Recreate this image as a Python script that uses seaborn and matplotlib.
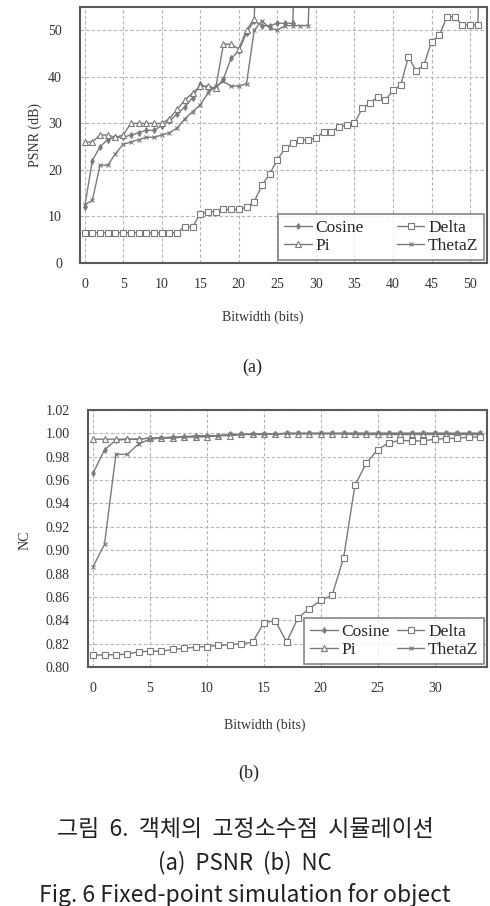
import matplotlib
matplotlib.use('Agg')
import matplotlib.pyplot as plt
import numpy as np
import seaborn as sns
import pandas as pd

# PSNR (dB) vs bitwidth; 100 marks a lossless (infinite) PSNR that runs off the top of the axes
psnr_bits_cos = list(range(0, 29))
psnr_cos = [12, 22, 25, 26.5, 27, 27, 27.5, 28, 28.5, 28.5, 29.5, 30.5, 32, 33.5, 35.5,
            38.5, 37.5, 37.5, 39.5, 44, 45.5, 49.5, 52, 51, 51, 51.5, 51.5, 51.5, 100]
psnr_bits_pi = list(range(0, 24))
psnr_pi = [26, 26, 27.5, 27.5, 27, 27.5, 30, 30, 30, 30, 30, 31, 33, 35, 36.5,
           38, 38, 37.5, 47, 47, 46, 50, 52.5, 100]
psnr_bits_theta = list(range(0, 31))
psnr_theta = [12.5, 13.5, 21, 21, 23.5, 25.5, 26, 26.5, 27, 27, 27.5, 28, 29, 31, 32.5,
              34, 36.5, 38, 39, 38, 38, 38.5, 50, 52, 50.5, 50, 51, 51, 51, 51, 100]
psnr_bits_delta = list(range(0, 53))
psnr_delta = [6.5, 6.5, 6.5, 6.5, 6.5, 6.5, 6.5, 6.5, 6.5, 6.5, 6.5, 6.5, 6.5, 7.8, 7.8,
              10.5, 11, 11, 11.5, 11.5, 11.5, 12, 13.2, 16.7, 19.1, 22.2, 24.6, 25.7, 26.4, 26.4,
              26.8, 28.2, 28.2, 29.3, 29.6, 30, 33.2, 34.3, 35.7, 35, 37.1, 38.2, 44.3, 41.3, 42.5,
              47.5, 48.9, 52.9, 52.9, 51.1, 51.1, 51.1, 100]

# NC vs bitwidth
nc_bits = list(range(0, 35))
nc_cos = [0.966, 0.986, 0.994, 0.995, 0.995, 0.996, 0.996, 0.997, 0.997, 0.998, 0.998, 0.998,
          0.999, 0.999, 0.9995, 0.9995, 0.9995, 1.0, 1.0, 1.0, 1.0, 1.0, 1.0, 1.0, 1.0,
          1.0, 1.0, 1.0, 1.0, 1.0, 1.0, 1.0, 1.0, 1.0, 1.0]
nc_pi = [0.995, 0.995, 0.995, 0.995, 0.995, 0.996, 0.996, 0.996, 0.997, 0.997, 0.997, 0.998,
         0.998, 0.999, 0.999, 0.999, 0.9995, 0.9995, 0.9995, 0.9995, 0.9995, 0.9995, 0.9995,
         0.999, 0.999, 0.999, 0.999, 0.999, 0.999, 0.999, 0.999, 0.999, 0.999, 0.999, 0.999]
nc_theta = [0.886, 0.905, 0.982, 0.982, 0.991, 0.995, 0.996, 0.996, 0.997, 0.997, 0.998, 0.998,
            0.999, 0.999, 0.9995, 0.9995, 0.9995, 1.0, 1.0, 1.0, 1.0, 1.0, 1.0, 1.0, 1.0,
            1.0, 1.0, 1.0, 1.0, 1.0, 1.0, 1.0, 1.0, 1.0, 1.0]
nc_delta = [0.810, 0.8105, 0.8105, 0.811, 0.813, 0.8135, 0.8135, 0.815, 0.816, 0.817, 0.8175,
            0.8185, 0.819, 0.820, 0.821, 0.838, 0.8395, 0.8215, 0.842, 0.850, 0.857, 0.8615,
            0.8935, 0.9555, 0.9745, 0.986, 0.992, 0.994, 0.9935, 0.9935, 0.995, 0.9955, 0.9958,
            0.9968, 0.9968]

sns.set_style('white')
plt.rcParams['font.family'] = ['Liberation Serif', 'DejaVu Serif']

fig = plt.figure(figsize=(4.9, 9.06), dpi=100)
ax1 = fig.add_axes([0.1633, 0.7097, 0.8306, 0.2826])
ax2 = fig.add_axes([0.1796, 0.2638, 0.8143, 0.2837])

line_c = '#7a7a7a'
styles = {
    'Cosine': dict(marker='d', markersize=3, markerfacecolor=line_c, markeredgecolor=line_c),
    'Delta': dict(marker='s', markersize=4.5, markerfacecolor='white', markeredgecolor=line_c, markeredgewidth=0.8),
    'Pi': dict(marker='^', markersize=4.5, markerfacecolor='white', markeredgecolor=line_c, markeredgewidth=0.8),
    'ThetaZ': dict(marker='x', markersize=3.5, markeredgecolor=line_c, markeredgewidth=0.8),
}

def draw(ax, series):
    for name, xs, ys in series:
        sns.lineplot(x=xs, y=ys, ax=ax, color=line_c, linewidth=1.0, label=name, **styles[name])

draw(ax1, [('Cosine', psnr_bits_cos, psnr_cos), ('Pi', psnr_bits_pi, psnr_pi),
           ('Delta', psnr_bits_delta, psnr_delta), ('ThetaZ', psnr_bits_theta, psnr_theta)])
draw(ax2, [('Cosine', nc_bits, nc_cos), ('Pi', nc_bits, nc_pi),
           ('Delta', nc_bits, nc_delta), ('ThetaZ', nc_bits, nc_theta)])

ax1.set_xlim(-0.6, 52.2)
ax1.set_ylim(0, 55)
ax1.set_xticks(np.arange(0, 51, 5))
ax1.set_yticks(np.arange(0, 51, 10))

ax2.set_xlim(-0.45, 34.6)
ax2.set_ylim(0.80, 1.02)
ax2.set_xticks(np.arange(0, 31, 5))
ax2.set_yticks(np.arange(0.80, 1.021, 0.02))
ax2.yaxis.set_major_formatter(matplotlib.ticker.FormatStrFormatter('%.2f'))

leg_opts = {ax1: dict(columnspacing=1.9, borderpad=0.35, handlelength=1.6),
            ax2: dict(columnspacing=0.4, borderpad=0.35, handlelength=1.6)}

for ax in (ax1, ax2):
    ax.grid(True, linestyle=(0, (3, 2)), color='#b5b5b5', linewidth=0.8)
    ax.set_axisbelow(True)
    for sp in ax.spines.values():
        sp.set_color('#5a5a5a')
        sp.set_linewidth(1.5)
    ax.tick_params(axis='x', labelsize=10, colors='#333333', length=0, pad=11)
    ax.tick_params(axis='y', labelsize=10, colors='#333333', length=0, pad=13)
    ax.set_xlabel('')
    ax.set_ylabel('')
    handles, labels = ax.get_legend_handles_labels()
    leg = ax.legend(handles, labels, ncol=2, loc='lower right', bbox_to_anchor=(1.0, 0.0),
                    fontsize=12.5, frameon=True, fancybox=False, edgecolor='#666666',
                    borderaxespad=0.15, handletextpad=0.2, labelspacing=0.1,
                    **leg_opts[ax])
    leg.get_frame().set_linewidth(1.2)

fig.text(0.071, 0.851, 'PSNR (dB)', rotation=90, ha='center', va='center', fontsize=10, color='#333333')
fig.text(0.051, 0.404, 'NC', rotation=90, ha='center', va='center', fontsize=10, color='#333333')
fig.text(0.537, 0.650, 'Bitwidth (bits)', ha='center', va='center', fontsize=10, color='#333333')
fig.text(0.541, 0.200, 'Bitwidth (bits)', ha='center', va='center', fontsize=10, color='#333333')
fig.text(0.514, 0.595, '(a)', ha='center', va='center', fontsize=13, color='#222222')
fig.text(0.508, 0.1468, '(b)', ha='center', va='center', fontsize=13, color='#222222')

cap_font = ['Noto Sans CJK KR', 'DejaVu Sans']
fig.text(0.5, 0.0839, '그림  6.  객체의  고정소수점  시뮬레이션', ha='center', va='center',
         fontsize=16.5, family=cap_font, color='#222222')
fig.text(0.5, 0.0475, '(a)  PSNR  (b)  NC', ha='center', va='center',
         fontsize=16, family=cap_font, color='#222222')
fig.text(0.5, 0.0121, 'Fig. 6 Fixed-point simulation for object', ha='center', va='center',
         fontsize=16.5, family=cap_font, color='#222222')

fig.savefig('out.png', dpi=100)
